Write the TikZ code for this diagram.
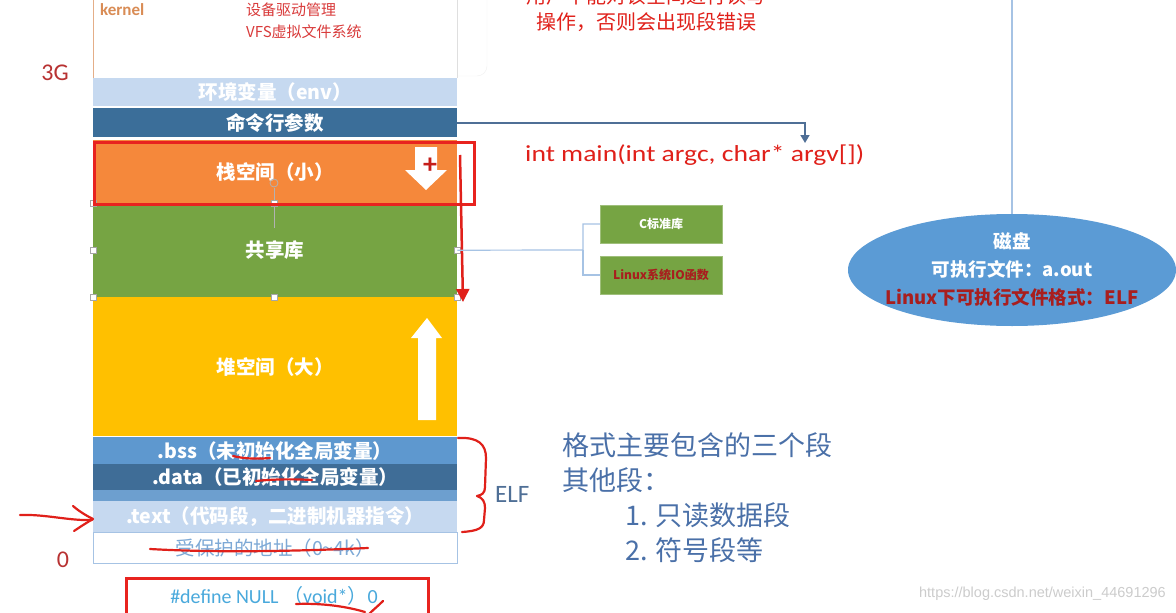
\documentclass[tikz,border=0pt]{standalone}
\usepackage{fontspec}
\setmainfont{Carlito}
\newfontfamily\cjk{Noto Sans CJK SC}
\newfontfamily\wmfont{Liberation Sans}
\usetikzlibrary{arrows.meta,calc,shapes.geometric}
\definecolor{envblue}{HTML}{C6D9F0}
\definecolor{cmdblue}{HTML}{3B6E99}
\definecolor{stackor}{HTML}{F5883B}
\definecolor{libgreen}{HTML}{76A443}
\definecolor{heapyel}{HTML}{FFC000}
\definecolor{bssblue}{HTML}{5E98CF}
\definecolor{datablue}{HTML}{3F6D97}
\definecolor{stripblue}{HTML}{6D9FCF}
\definecolor{protblue}{HTML}{7DA9D6}
\definecolor{frame}{HTML}{E8231F}
\definecolor{penred}{HTML}{E0201A}
\definecolor{noteblue}{HTML}{4A70A8}
\definecolor{elfblue}{HTML}{4F6F96}
\definecolor{diskblue}{HTML}{5B9BD5}
\definecolor{dkred}{HTML}{A81E1E}
\definecolor{txtred}{HTML}{D93B3B}
\definecolor{kerncol}{HTML}{D98C55}
\definecolor{nullblue}{HTML}{49A9DC}
\definecolor{libline}{HTML}{A6C3E4}
\newcommand{\fsz}[1]{\fontsize{#1}{#1}\selectfont}
\begin{document}
\begin{tikzpicture}[x=1pt,y=-1pt,
  seg/.style={fill=#1, minimum width=364pt, inner sep=0pt, anchor=north west, text=white, font=\cjk\bfseries\fsz{19.5}},
  handle/.style={draw=gray!70, fill=white, minimum size=6pt, inner sep=0pt},
  pen/.style={draw=penred, line width=2.2pt, line cap=round, line join=round},
  frm/.style={draw=frame, line width=2.8pt},
  minibox/.style={fill=libgreen, draw=libgreen!70!white, minimum width=122pt, minimum height=38pt, inner sep=0pt, font=\cjk\bfseries\fsz{12}},
  note/.style={anchor=west, text=noteblue, font=\cjk\fsz{27}, inner sep=0pt},
  disktxt/.style={font=\cjk\bfseries\fsz{18.5}, inner sep=0pt}]
\useasboundingbox (0,0) rectangle (1176,613);
\clip (0,0) rectangle (1176,613);
\fill[white] (0,0) rectangle (1176,613);

% faint panel right of kernel
\draw[gray!12, rounded corners=10pt] (440,-20) -- (487,-20) -- (487,76) -- (440,76);
% kernel box
\fill[white] (93,-10) rectangle (457,78);
\draw[kerncol!70, line width=0.8pt] (93,-10) -- (93,78);
\draw[gray!25, line width=0.8pt] (457,-10) -- (457,78);
\node[anchor=west, text=kerncol, font=\bfseries\fsz{17}, inner sep=0pt] (kernlbl) at (100,10) {kernel};
\node[anchor=west, text=txtred, font=\cjk\fsz{15}, inner sep=0pt] (drv) at (246,10) {设备驱动管理};
\node[anchor=west, text=txtred, font=\cjk\fsz{15}, inner sep=0pt] (vfs) at (246,32) {VFS虚拟文件系统};

\node[text=txtred!85!black, font=\fsz{24}, inner sep=0pt] (g3) at (55,73) {3G};
\node[text=txtred!85!black, font=\fsz{24}, inner sep=0pt] (g0) at (63,560) {0};

% segments
\node[seg=envblue, minimum height=28pt] (env) at (93,78) {环境变量（env）};
\node[seg=cmdblue, minimum height=29pt] (cmd) at (93,108) {命令行参数};
\node[seg=stackor, minimum height=63pt] (stack) at (93,140) {栈空间（小）};
\node[seg=libgreen, minimum height=94pt] (shared) at (93,203) {共享库};
\node[seg=heapyel, minimum height=139pt] (heap) at (93,297) {堆空间（大）};
\node[seg=bssblue, minimum height=27pt] (bss) at (93,437) {.bss（未初始化全局变量）};
\node[seg=datablue, minimum height=26pt] (data) at (93,464) {.data（已初始化全局变量）};
\fill[stripblue] (93,490) rectangle (457,501);
\node[seg=envblue, minimum height=31pt] (text) at (93,501) {.text（代码段，二进制机器指令）};
\node[seg=white, draw=libline, text=protblue, font=\cjk\fsz{19.5}, minimum height=31pt] (prot) at (93,532) {受保护的地址（0\textasciitilde 4k）};

% stack down arrow and plus
\fill[white] (415,147) -- (437,147) -- (437,170) -- (447,170) -- (426,190) -- (405,170) -- (415,170) -- cycle;
\node[text=frame!85!black, font=\bfseries\fsz{28}, inner sep=0pt] (plus) at (430,166) {+};
% heap up arrow
\fill[white] (418,420) -- (436,420) -- (436,338) -- (442,338) -- (427,318) -- (411,338) -- (418,338) -- cycle;

% selection handles of shared lib
\draw[gray!60, line width=0.7pt] (274,188) -- (274,228);
\draw[gray!60, line width=0.8pt] (274,183) circle (4pt);
\foreach \p in {(93,203),(274,203),(93,250),(457,250),(93,297),(274,297),(457,297)}
  \node[handle] at \p {};

% red frame around stack
\node[frm, minimum width=380pt, minimum height=62pt, anchor=north west, inner sep=0pt] (stackfrm) at (93,141) {};
% long red arrow
\coordinate (ra1) at (460,155);
\coordinate (ra2) at (463,302);
\draw[draw=penred, line width=2.5pt, -{Triangle[length=13pt,width=13pt]}] (ra1) -- (ra2);

% argv connector
\node[anchor=west, text=penred, font=\fsz{23}, inner sep=0pt] (mainfn) at (525,155) {\scalebox{1.2}[1]{int main(int argc, char* argv[])}};
\coordinate (argvtop) at (805,143);
\draw[elfblue, line width=1.6pt, -{Triangle[length=8pt,width=9pt]}] (cmd.east) -| (argvtop);

% top red text
\node[text=penred, font=\cjk\fsz{20}, inner sep=0pt] (warn1) at (646,-4) {用户不能对该空间进行读写};
\node[text=penred, font=\cjk\fsz{20}, inner sep=0pt] (warn2) at (646,22) {操作，否则会出现段错误};

% library boxes
\node[minibox, text=white] (clib) at (661,224) {C标准库};
\node[minibox, text=dkred] (linuxio) at (661,275) {Linux系统IO函数};
\draw[libline, line width=1.2pt] (shared.east) -- (583,250) |- (clib.west);
\draw[libline, line width=1.2pt] (583,250) |- (linuxio.west);

% disk
\node[ellipse, fill=diskblue, minimum width=328pt, minimum height=112pt, inner sep=0pt] (disk) at (1012,270) {};
\coordinate (disktop) at (1012,0);
\draw[libline, line width=1.2pt] (disktop) -- (disk.north);
\node[disktxt, text=white] (disk1) at (1012,241) {磁盘};
\node[disktxt, text=white] (disk2) at (1012,269) {可执行文件：a.out};
\node[disktxt, text=dkred] (disk3) at (1012,297) {Linux下可执行文件格式：ELF};

% ELF brace and label
\draw[pen] (458,438) .. controls (478,437) and (486,444) .. (486,458) -- (485,487) .. controls (485,493) and (482,495) .. (477,496)
  .. controls (483,498) and (485,502) .. (485,508) -- (484,520) .. controls (484,528) and (478,531) .. (462,532);
\node[anchor=west, text=elfblue, font=\fsz{25}, inner sep=0pt] (elf) at (495,494) {ELF};

% notes
\node[note] (n1) at (562,445) {格式主要包含的三个段};
\node[note] (n2) at (562,480) {其他段：};
\node[note] (n3) at (625,515) {1. 只读数据段};
\node[note] (n4) at (625,550) {2. 符号段等};

% hand strokes
\draw[pen] (233,456) .. controls (245,459) and (258,459) .. (270,458);
\draw[pen] (256,481) .. controls (275,479) and (295,479) .. (312,480);
\draw[pen] (150,549) .. controls (220,553) and (300,551) .. (368,548);
\draw[pen] (20,515) .. controls (45,514) and (70,521) .. (92,520);
\draw[pen] (73,506) .. controls (80,512) and (87,516) .. (93,519) .. controls (86,523) and (80,527) .. (74,531);

% NULL box
\node[frm, minimum width=302pt, minimum height=50pt, anchor=north west, inner sep=0pt] (nullbox) at (125,577) {};
\node[text=nullblue, font=\fsz{20}, inner sep=0pt] (nulltxt) at (274,596) {\#define NULL {\cjk（}void*{\cjk）}0};
\draw[pen] (296,604) .. controls (320,603) and (345,606) .. (365,612);
\draw[pen] (383,601) .. controls (378,606) and (373,610) .. (368,615);

% watermark
\node[anchor=east, text=gray!40, font=\wmfont\fsz{14.5}, inner sep=0pt] (wm) at (1166,594) {https://blog.csdn.net/weixin\_44691296};
\end{tikzpicture}
\end{document}
